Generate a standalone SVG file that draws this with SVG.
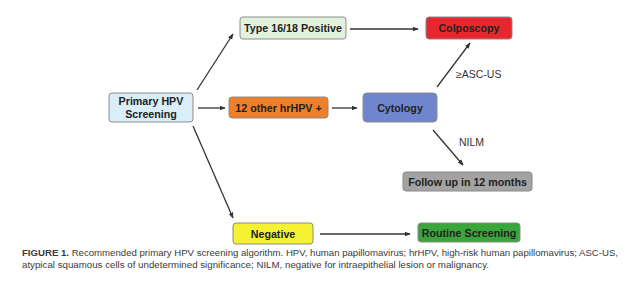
<svg xmlns="http://www.w3.org/2000/svg" width="630" height="282" viewBox="0 0 630 282">
<defs>
<marker id="ah" viewBox="0 0 10 10" refX="9" refY="5" markerWidth="6" markerHeight="6" orient="auto" markerUnits="userSpaceOnUse">
<path d="M0,1 L10,5 L0,9 z" fill="#333"/>
</marker>
<style>
.box{stroke:#8a8a8a;stroke-width:1}
.lbl{font-family:"Liberation Sans",Arial,sans-serif;font-weight:bold;font-size:10.7px;fill:#222;text-anchor:middle}
.edge{stroke:#333;stroke-width:1.3;fill:none;marker-end:url(#ah)}
.el{font-family:"Liberation Sans",Arial,sans-serif;font-size:10.5px;fill:#333}
.cap{font-family:"Liberation Sans Narrow","Liberation Sans",Arial,sans-serif;font-size:9.6px;fill:#3a3a3a}
</style>
</defs>
<rect width="630" height="282" fill="#ffffff"/>
<g id="connectors">
<line class="edge" x1="197" y1="90" x2="233" y2="34"/>
<line class="edge" x1="198" y1="108" x2="225" y2="108"/>
<line class="edge" x1="193" y1="126" x2="233" y2="218"/>
<line class="edge" x1="350" y1="29" x2="418" y2="29"/>
<line class="edge" x1="332" y1="108" x2="357" y2="108"/>
<line class="edge" x1="437" y1="87" x2="470" y2="43"/>
<line class="edge" x1="433" y1="130" x2="463" y2="165"/>
<line class="edge" x1="320" y1="234" x2="410" y2="234"/>
<text class="el" x="456" y="78">≥ASC-US</text>
<text class="el" x="459" y="146">NILM</text>
</g>
<g id="primary">
<rect class="box" x="109" y="93" width="84" height="29" rx="3" fill="#daeef9"/>
<text class="lbl" x="151" y="105">Primary HPV</text>
<text class="lbl" x="151" y="118">Screening</text>
</g>
<g id="type1618">
<rect class="box" x="240" y="17" width="106" height="22" rx="3" fill="#e3f2dc"/>
<text class="lbl" x="293" y="32">Type 16/18 Positive</text>
</g>
<g id="other">
<rect class="box" x="229" y="97" width="99" height="21" rx="3" fill="#f07f2a"/>
<text class="lbl" x="278.5" y="111.5">12 other hrHPV +</text>
</g>
<g id="colposcopy">
<rect class="box" x="426" y="17" width="86" height="22" rx="3" fill="#e8262e"/>
<text class="lbl" x="469" y="32">Colposcopy</text>
</g>
<g id="cytology">
<rect class="box" x="363" y="93" width="74" height="29" rx="4" fill="#6f86cf"/>
<text class="lbl" x="400" y="111.5">Cytology</text>
</g>
<g id="followup">
<rect class="box" x="403" y="172" width="129" height="19" rx="3" fill="#a3a3a3"/>
<text class="lbl" x="467.5" y="185.5">Follow up in 12 months</text>
</g>
<g id="negative">
<rect class="box" x="233" y="223" width="80" height="21" rx="3" fill="#f5f232"/>
<text class="lbl" x="273" y="237.5">Negative</text>
</g>
<g id="routine">
<rect class="box" x="418" y="223" width="102" height="19" rx="3" fill="#3aa53a"/>
<text class="lbl" x="469" y="236.5">Routine Screening</text>
</g>
<g id="caption">
<text class="cap" x="22" y="256" textLength="596" lengthAdjust="spacingAndGlyphs"><tspan font-weight="bold">FIGURE 1.</tspan>  Recommended primary HPV screening algorithm.  HPV, human papillomavirus; hrHPV, high-risk human papillomavirus; ASC-US,</text>
<text class="cap" x="22" y="268" textLength="467" lengthAdjust="spacingAndGlyphs">atypical squamous cells of undetermined significance; NILM, negative for intraepithelial lesion or malignancy.</text>
</g>
</svg>
